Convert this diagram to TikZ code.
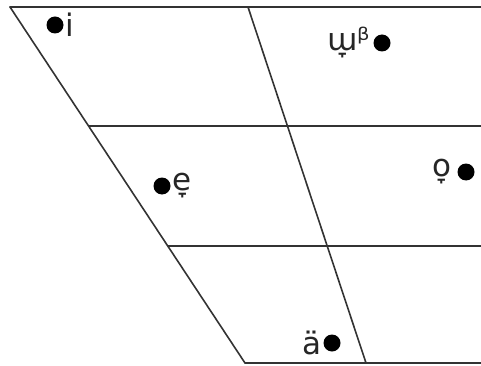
\documentclass[tikz,border=0pt]{standalone}
\usepackage{fontspec}
\setmainfont{DejaVu Sans}
\usetikzlibrary{positioning}
\tikzset{
  vframe/.style={draw=black!80,line width=1.6pt,line cap=round},
  vdot/.style={circle,fill=black,inner sep=0pt,minimum size=17pt},
  vlbl/.style={font=\fontsize{31}{33}\selectfont,inner sep=0pt,text=black!85},
}
\begin{document}
\begin{tikzpicture}[x=1pt,y=-1pt]
  \useasboundingbox (0,0) rectangle (481,366);
  % frame corners
  \coordinate (TL) at (10,7);
  \coordinate (TR) at (481,7);
  \coordinate (BL) at (245,363);
  \coordinate (BR) at (481,363);
  \coordinate (ML) at (89,126);
  \coordinate (MR) at (481,126);
  \coordinate (LL) at (168,246);
  \coordinate (LR) at (481,246);
  \coordinate (CT) at (248,7);
  \coordinate (CB) at (366,363);

  \draw[vframe] (TL)--(TR);
  \draw[vframe] (TL)--(BL)--(BR);
  \draw[vframe] (ML)--(MR);
  \draw[vframe] (LL)--(LR);
  \draw[vframe] (CT)--(CB);

  % vowels
  \node[vdot] (i) at (55,25) {};
  \node[vlbl,right=2pt of i] (iL) {i};
  \node[vdot] (u) at (382,43) {};
  \node[vlbl,left=3pt of u] (uL) {ɯ̞ᵝ};
  \node[vdot] (e) at (162,186) {};
  \node[vlbl,right=2pt of e] (eL) {e̞};
  \node[vdot] (o) at (466,172) {};
  \node[vlbl,left=6pt of o] (oL) {o̞};
  \node[vdot] (a) at (332,343) {};
  \node[vlbl,left=2pt of a] (aL) {ä};
\end{tikzpicture}
\end{document}
